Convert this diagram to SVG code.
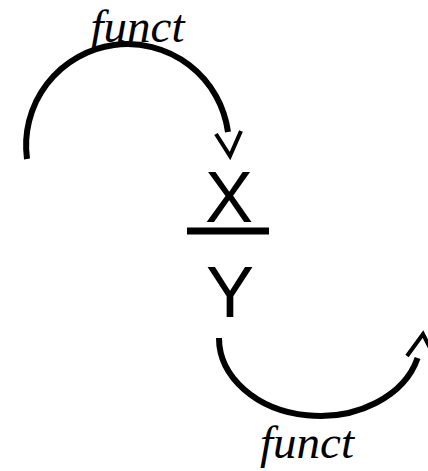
<svg xmlns="http://www.w3.org/2000/svg" width="428" height="471" viewBox="0 0 428 471">
<style>
.arc{fill:none;stroke:#000;stroke-width:6}
.head{fill:none;stroke:#000;stroke-width:4;stroke-linejoin:miter}
.lbl{font-family:"Liberation Serif",serif;font-style:italic;font-size:47px;fill:#000;text-anchor:middle}
.var{font-family:"Liberation Sans",Arial,sans-serif;font-size:72px;fill:#000;text-anchor:middle}
</style>
<rect width="428" height="471" fill="#fff"/>
<g id="fraction">
<text class="var" x="229" y="222">X</text>
<line x1="187" y1="231" x2="269" y2="231" stroke="#000" stroke-width="7"/>
<text class="var" x="230" y="317">Y</text>
</g>
<g id="connectors">
<path class="arc" d="M 27 159 A 101 101 0 0 1 228 132"/>
<polyline class="head" points="216,134 230,156 241,131"/>
<path class="arc" d="M 219 338 A 101 78 0 0 0 417.6 358"/>
<polyline class="head" points="407,356 423,334 434,356"/>
</g>
<g id="label-top"><text class="lbl" x="137.5" y="42">funct</text></g>
<g id="label-bottom"><text class="lbl" x="307" y="458">funct</text></g>
</svg>
